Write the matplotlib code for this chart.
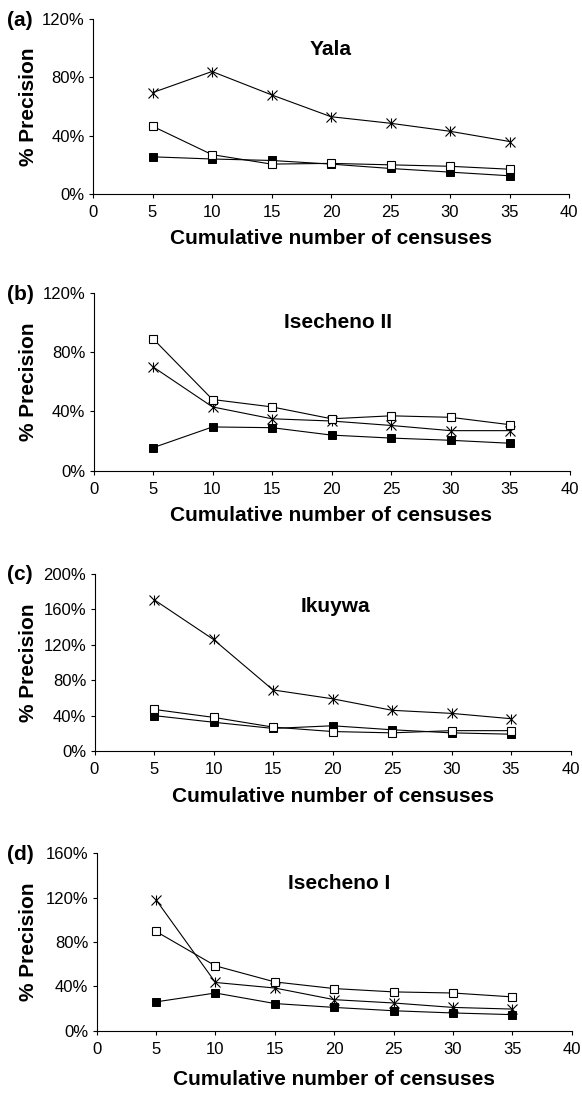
import matplotlib.pyplot as plt
import numpy as np

plt.rcParams['font.family'] = ['Liberation Sans', 'DejaVu Sans']

# cumulative number of censuses
censuses = [5, 10, 15, 20, 25, 30, 35]

# (a) Yala
star_a = [69.5, 84, 68, 53, 48.5, 43, 36]
open_a = [46.5, 27, 20.5, 21, 20, 19, 17]
filled_a = [25.5, 24, 23, 20.5, 17.5, 15, 12.5]

# (b) Isecheno II
star_b = [70, 43, 35, 33.5, 30.5, 27, 27]
open_b = [89, 48, 43, 35, 37, 36, 31]
filled_b = [15.5, 29.5, 29, 24, 22, 20.5, 18.5]

# (c) Ikuywa
star_c = [171, 126, 69, 59, 46, 42.5, 36.5]
open_c = [47, 38, 27, 22, 20.5, 23, 23]
filled_c = [40, 32.5, 25.5, 28.5, 24, 20.5, 19]

# (d) Isecheno I
star_d = [118, 43.5, 38.5, 28, 25, 21, 19.5]
open_d = [89.5, 58.5, 44, 38, 35, 34, 30.5]
filled_d = [26, 34, 24.5, 21, 18, 16, 14.5]

panels = [
    ('(a)', 'Yala', star_a, open_a, filled_a, 120),
    ('(b)', 'Isecheno II', star_b, open_b, filled_b, 120),
    ('(c)', 'Ikuywa', star_c, open_c, filled_c, 200),
    ('(d)', 'Isecheno I', star_d, open_d, filled_d, 160),
]

W, H = 582, 1093
# pixel boxes: left, right, top, bottom
boxes = [(93, 569, 19, 194), (93.5, 569.5, 292.7, 470.7),
         (94.5, 570.5, 574, 751), (96.7, 571.6, 853.3, 1030.7)]
title_y = [0.823, 0.83, 0.819, 0.827]
title_x = [0.50, 0.514, 0.506, 0.511]
xlab_px = [45, 45, 45, 49]
letter_y = [20, 295, 575, 855]

fig = plt.figure(figsize=(W / 100, H / 100), dpi=100)

for i, (letter, site, star, opn, fil, ymax) in enumerate(panels):
    l, r, t, b = boxes[i]
    ax = fig.add_axes([l / W, 1 - b / H, (r - l) / W, (b - t) / H])

    lw = 0.8
    ax.plot(censuses, star, color='black', lw=lw, marker='x', ms=6.5,
            mew=0.8, zorder=3)
    ax.plot(censuses, star, ls='none', marker='|', ms=6.5, mew=0.8,
            color='black', zorder=3)
    ax.plot(censuses, fil, color='black', lw=lw, marker='s', ms=5.5,
            mfc='black', mec='black', mew=0.7, zorder=3)
    ax.plot(censuses, opn, color='black', lw=lw, marker='s', ms=5.5,
            mfc='white', mec='black', mew=0.8, zorder=4)

    ax.set_xlim(0, 40)
    ax.set_ylim(0, ymax)
    ax.set_xticks(np.arange(0, 41, 5))
    ax.set_yticks(np.arange(0, ymax + 1, 40))
    ax.set_yticklabels([f'{v}%' for v in np.arange(0, ymax + 1, 40)])

    for side in ['top', 'right']:
        ax.spines[side].set_visible(False)
    for side in ['left', 'bottom']:
        ax.spines[side].set_linewidth(0.8)
    ax.tick_params(axis='both', direction='out', length=3, width=0.8,
                   labelsize=12)
    ax.tick_params(axis='x', pad=5)
    ax.tick_params(axis='y', pad=3)

    ax.text(title_x[i], title_y[i], site, transform=ax.transAxes,
            ha='center', va='center', fontsize=15, fontweight='bold')
    ax.text(0.5, -xlab_px[i] / (b - t), 'Cumulative number of censuses',
            transform=ax.transAxes, ha='center', va='center',
            fontsize=15, fontweight='bold')
    ax.text(-(l - 28.6) / (r - l), 0.5, '% Precision', transform=ax.transAxes,
            ha='center', va='center', rotation=90, fontsize=15,
            fontweight='bold')
    fig.text(20 / W, 1 - letter_y[i] / H, letter, ha='center', va='center',
             fontsize=15, fontweight='bold')

fig.savefig('out.png', dpi=100)
